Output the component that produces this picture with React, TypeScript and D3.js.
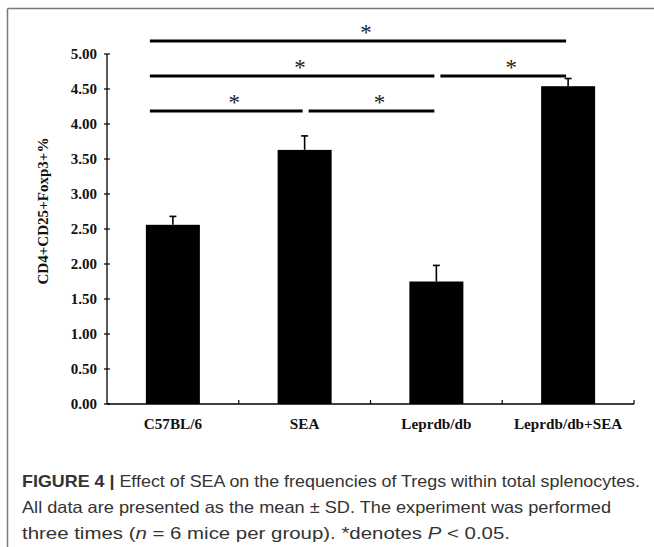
import React from "react";
import * as d3 from "d3";

// groups and values
const categories = ["C57BL/6", "SEA", "Leprdb/db", "Leprdb/db+SEA"];
const means = [2.56, 3.63, 1.75, 4.54];
const sds = [0.12, 0.2, 0.23, 0.11];
const yTickValues = [0, 0.5, 1, 1.5, 2, 2.5, 3, 3.5, 4, 4.5, 5];
const yLabel = "CD4+CD25+Foxp3+%";

// significance brackets (index into categories), row 0 = highest
const comparisons = [
  { from: 0, to: 3, row: 0 },
  { from: 0, to: 2, row: 1 },
  { from: 2, to: 3, row: 1 },
  { from: 0, to: 1, row: 2 },
  { from: 1, to: 2, row: 2 },
];

const captionBold = "FIGURE 4 |";
const captionLines = [
  " Effect of SEA on the frequencies of Tregs within total splenocytes.",
  "All data are presented as the mean \u00b1 SD. The experiment was performed",
  "three times (",
];

const W = 654;
const H = 547;
const left = 107;
const right = 634;
const bottom = 404;
const top = 54;

const serif = "'Liberation Serif', 'Times New Roman', serif";
const sans = "'Liberation Sans', Arial, sans-serif";

const App = () => {
  const x = d3
    .scaleBand()
    .domain(categories)
    .range([left, right])
    .paddingInner(0.59)
    .paddingOuter(0.295);

  const y = d3.scaleLinear().domain([0, 5]).range([bottom, top]);

  const bw = x.bandwidth();
  const step = x.step();
  const center = (i) => x(categories[i]) + bw / 2;

  // boundaries between groups on the x axis
  const boundaries = categories.map((c, i) => left + step * (i + 1));

  return (
    <svg
      width={W}
      height={H}
      style={{ position: "absolute", left: 0, top: 0, background: "#fff" }}
    >
      {/* figure frame */}
      <line x1={7.5} y1={8.5} x2={W} y2={8.5} stroke="#7a7a7a" strokeWidth={1.5} />
      <line x1={7.5} y1={8.5} x2={7.5} y2={H} stroke="#7a7a7a" strokeWidth={1.5} />

      {/* y axis */}
      <line x1={left} y1={y(5)} x2={left} y2={bottom} stroke="#000" strokeWidth={1.3} />
      {yTickValues.map((t) => (
        <g key={t}>
          <line x1={left - 3} x2={left + 3} y1={y(t)} y2={y(t)} stroke="#000" strokeWidth={1.2} />
          <text
            x={97}
            y={y(t) + 5}
            textAnchor="end"
            fontFamily={serif}
            fontWeight="bold"
            fontSize={15}
            fill="#111"
          >
            {t.toFixed(2)}
          </text>
        </g>
      ))}
      <text
        transform={`translate(48,${211}) rotate(-90)`}
        textAnchor="middle"
        fontFamily={serif}
        fontWeight="bold"
        fontSize={14.5}
        fill="#111"
        textLength={147}
        lengthAdjust="spacingAndGlyphs"
      >
        {yLabel}
      </text>

      {/* bars */}
      {categories.map((c, i) => (
        <rect
          key={c}
          x={x(c)}
          y={y(means[i])}
          width={bw}
          height={bottom - y(means[i])}
          fill="#000"
        />
      ))}

      {/* error bars */}
      {categories.map((c, i) => (
        <g key={"e" + c} stroke="#000" strokeWidth={1.6}>
          <line x1={center(i)} x2={center(i)} y1={y(means[i])} y2={y(means[i] + sds[i])} />
          <line
            x1={center(i) - 3.5}
            x2={center(i) + 3.5}
            y1={y(means[i] + sds[i])}
            y2={y(means[i] + sds[i])}
          />
        </g>
      ))}

      {/* x axis */}
      <line x1={left} y1={bottom} x2={right} y2={bottom} stroke="#000" strokeWidth={1.3} />
      {boundaries.map((b, i) => (
        <line key={i} x1={b} x2={b} y1={bottom} y2={bottom - 4} stroke="#000" strokeWidth={1.2} />
      ))}
      {categories.map((c, i) => (
        <text
          key={"l" + c}
          x={center(i)}
          y={429}
          textAnchor="middle"
          fontFamily={serif}
          fontWeight="bold"
          fontSize={15.2}
          fill="#111"
        >
          {c}
        </text>
      ))}

      {/* significance lines */}
      {comparisons.map((cmp, k) => {
        const x1 = cmp.from === 0 ? x(categories[0]) + 4 : center(cmp.from) + 4;
        const x2 = center(cmp.to) - 2;
        const ly = 41 + cmp.row * 35;
        return (
          <g key={k}>
            <line x1={x1} x2={x2} y1={ly} y2={ly} stroke="#000" strokeWidth={3} />
            <text
              x={(x1 + x2) / 2 + 8}
              y={ly - 1}
              textAnchor="middle"
              fontFamily={serif}
              fontSize={23}
              fill="#222"
            >
              *
            </text>
          </g>
        );
      })}

      {/* caption */}
      <text x={22} y={487} fontFamily={sans} fontSize={16.5} fill="#333" textLength={618} lengthAdjust="spacingAndGlyphs">
        <tspan fontWeight="bold">{captionBold}</tspan>
        {captionLines[0]}
      </text>
      <text x={22} y={513} fontFamily={sans} fontSize={16.5} fill="#333" textLength={589} lengthAdjust="spacingAndGlyphs">
        {captionLines[1]}
      </text>
      <text x={22} y={539} fontFamily={sans} fontSize={16.5} fill="#333" textLength={488} lengthAdjust="spacingAndGlyphs">
        {captionLines[2]}
        <tspan fontStyle="italic">n</tspan>
        {" = 6 mice per group). *denotes "}
        <tspan fontStyle="italic">P</tspan>
        {" < 0.05."}
      </text>
    </svg>
  );
};

export default App;
